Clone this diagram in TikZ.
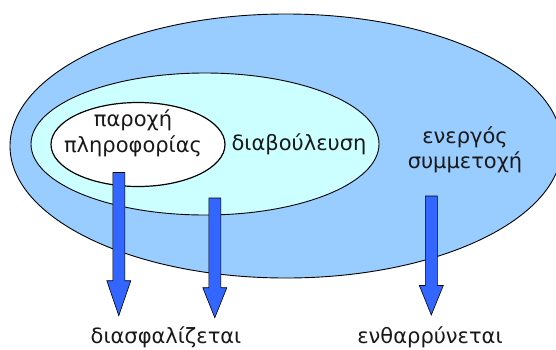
\documentclass[tikz,border=0pt]{standalone}
\usepackage{fontspec}
\setmainfont{DejaVu Sans}
\usetikzlibrary{shapes.geometric,calc}
\definecolor{outerblue}{HTML}{99CCFF}
\definecolor{midcyan}{HTML}{CCFFFF}
\definecolor{arrowblue}{HTML}{3366FF}
\tikzset{
  region/.style={ellipse,draw=black,line width=0.9pt,inner sep=0pt},
  blockarrow/.style={fill=arrowblue,draw=black,line width=0.6pt,line join=miter},
  lbl/.style={anchor=base,inner sep=0pt,font=\fontsize{21}{25}\selectfont,text=black!90}
}
\newcommand\BlockArrow[3]{%
  \path[blockarrow] let \p1=(#1), \p2=(#2) in
    (\x1-6pt,\y1) -- (\x1+6pt,\y1) -- (\x1+6pt,\y2+#3) -- (\x1+12pt,\y2+#3)
    -- (\x2,\y2) -- (\x1-12pt,\y2+#3) -- (\x1-6pt,\y2+#3) -- cycle;}
\begin{document}
\begin{tikzpicture}[x=1pt,y=-1pt]
\useasboundingbox (0,0) rectangle (556,349);
\clip (0,0) rectangle (556,349);
\node[region,fill=outerblue,minimum width=552pt,minimum height=264pt] (outer) at (286,146) {};
\node[region,fill=midcyan,minimum width=348pt,minimum height=142pt] (mid) at (205,144) {};
\node[region,fill=white,line width=1.2pt,minimum width=174pt,minimum height=84pt] (inner) at (138,144.5) {};
\node[lbl] (t1a) at (133,126.5) {παροχή};
\node[lbl] (t1b) at (133,152.5) {πληροφορίας};
\node[lbl] (t2) at (299,150) {διαβούλευση};
\node[lbl] (t3a) at (465,143) {ενεργός};
\node[lbl] (t3b) at (465,168) {συμμετοχή};
\node[lbl] (b1) at (166,343) {διασφαλίζεται};
\node[lbl] (b2) at (430,343) {ενθαρρύνεται};
\coordinate (a1s) at (118.8,172.5);
\coordinate (a1e) at (118.8,315.7);
\coordinate (a2s) at (214.8,198);
\coordinate (a2e) at (214.8,317.7);
\coordinate (a3s) at (431.3,196);
\coordinate (a3e) at (431.3,315);
\BlockArrow{a1s}{a1e}{35pt}
\BlockArrow{a2s}{a2e}{30pt}
\BlockArrow{a3s}{a3e}{29.5pt}
\end{tikzpicture}
\end{document}
